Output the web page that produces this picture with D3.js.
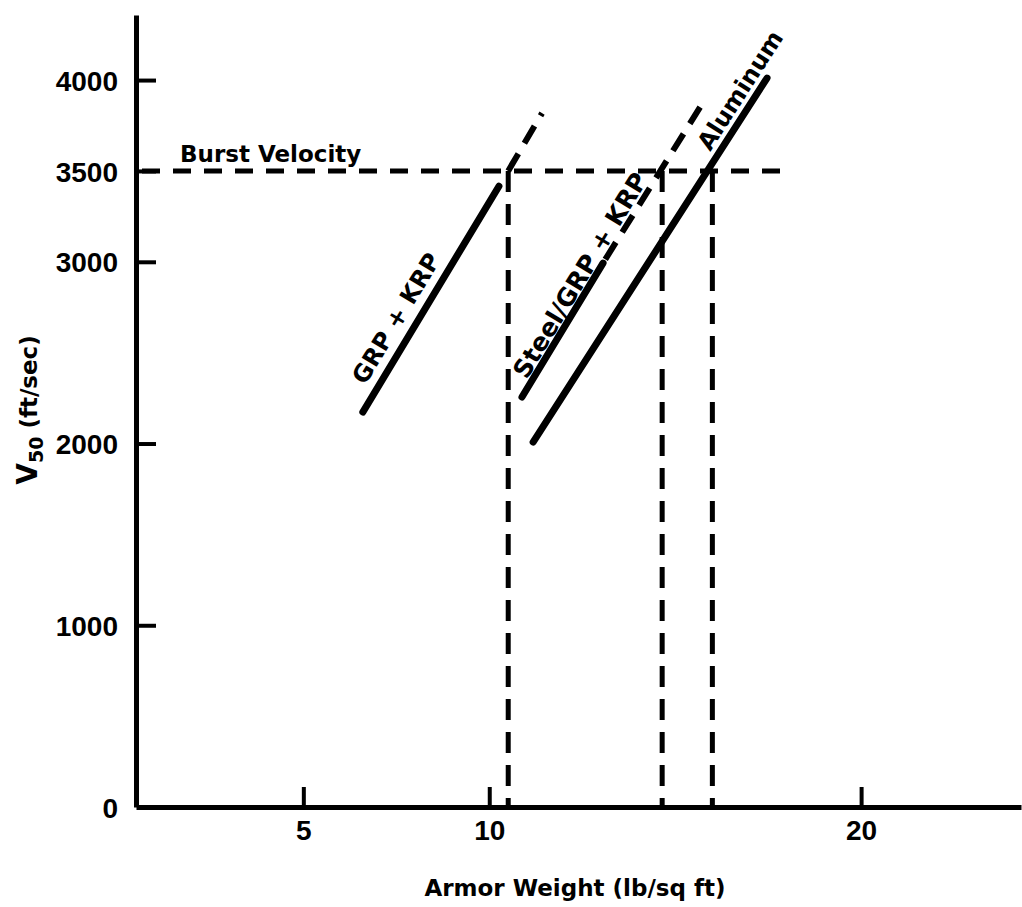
<!DOCTYPE html>
<meta charset="utf-8">
<script src="https://d3js.org/d3.v7.min.js"></script>
<style>
  body { margin: 0; background: #fff; }
  .tick text { font-family: "Liberation Sans Narrow", "Liberation Sans", sans-serif; font-stretch: condensed; font-weight: bold; font-size: 28px; }
  .lbl { font-family: "DejaVu Sans", sans-serif; font-weight: bold; fill: #000; }
</style>
<div id="chart"></div>
<script>
  var width = 1022
  var height = 907

  // axis ticks
  var xTicks = [5, 10, 20]
  var yTicks = [0, 1000, 2000, 3000, 3500, 4000]

  // armor curves (lb/sq ft, ft/sec)
  var grpKrpSolid = [[6.60, 2173], [10.26, 3416]]
  var grpKrpDash = [[10.51, 3500], [11.42, 3818]]
  var steelSolid = [[10.88, 2256], [13.06, 2993]]
  var steelDash = [[13.12, 3013], [15.67, 3851]]
  var aluminumSolid = [[11.18, 2008], [17.47, 4011]]

  // burst velocity and the weights where each curve reaches it
  var burstVelocity = 3500
  var burstExtent = [0.5, 18.15]
  var burstWeights = [10.51, 14.65, 16.0]

  // line labels: text and where they sit (centre, data units)
  var labelText = ["GRP + KRP", "Steel/GRP + KRP", "Aluminum"]
  var labelAt = [[7.49, 2690], [12.44, 2927], [16.74, 3945]]
  var labelRef = [grpKrpSolid, steelSolid, aluminumSolid]

  var svg = d3.select("#chart")
    .append("svg")
    .attr("width", width)
    .attr("height", height)

  var x = d3.scaleLinear().domain([0.5, 24.3]).range([136, 1021])
  var y = d3.scaleLinear().domain([0, 4358]).range([807, 15])

  // x axis
  var xAxis = svg.append("g")
    .attr("transform", "translate(0," + y(0) + ")")
    .call(d3.axisBottom(x).tickValues(xTicks).tickFormat(d3.format("d"))
      .tickSizeInner(-20).tickSizeOuter(0).tickPadding(33))
  xAxis.select(".domain").attr("stroke-width", 5)
  xAxis.selectAll(".tick line").attr("stroke-width", 4)
  xAxis.selectAll(".tick text").attr("dy", 0)

  // y axis
  var yAxis = svg.append("g")
    .attr("transform", "translate(" + x(0.5) + ",0)")
    .call(d3.axisLeft(y).tickValues(yTicks).tickFormat(d3.format("d"))
      .tickSizeInner(-20).tickSizeOuter(0).tickPadding(18))
  yAxis.select(".domain").attr("stroke-width", 5)
  yAxis.selectAll(".tick line").attr("stroke-width", 4)
    .attr("display", function (d) { return d == 0 ? "none" : null })
  yAxis.selectAll(".tick text").attr("dy", "0.36em")

  var line = d3.line()
    .x(function (d) { return x(d[0]) })
    .y(function (d) { return y(d[1]) })

  // burst velocity line + drops
  svg.append("path")
    .attr("d", line([[burstExtent[0], burstVelocity], [burstExtent[1], burstVelocity]]))
    .attr("stroke", "#000").attr("stroke-width", 5).attr("fill", "none")
    .attr("stroke-dasharray", "18,13").attr("stroke-dashoffset", -6)

  svg.selectAll(".drop")
    .data(burstWeights)
    .enter().append("path")
    .attr("class", "drop")
    .attr("d", function (d) { return line([[d, burstVelocity], [d, 0]]) })
    .attr("stroke", "#000").attr("stroke-width", 5).attr("fill", "none")
    .attr("stroke-dasharray", "21,12")

  // curves
  svg.selectAll(".solid")
    .data([grpKrpSolid, steelSolid, aluminumSolid])
    .enter().append("path")
    .attr("class", "solid")
    .attr("d", line)
    .attr("stroke", "#000").attr("stroke-width", 7).attr("fill", "none")
    .attr("stroke-linecap", "round")

  svg.selectAll(".ext")
    .data([grpKrpDash, steelDash])
    .enter().append("path")
    .attr("class", "ext")
    .attr("d", line)
    .attr("stroke", "#000").attr("stroke-width", 6).attr("fill", "none")
    .attr("stroke-dasharray", "20,12")

  // labels along the curves
  labelText.forEach(function (t, i) {
    var p = labelRef[i]
    var ang = Math.atan2(y(p[1][1]) - y(p[0][1]), x(p[1][0]) - x(p[0][0])) * 180 / Math.PI
    svg.append("text")
      .attr("class", "lbl")
      .attr("transform", "translate(" + x(labelAt[i][0]) + "," + y(labelAt[i][1]) + ") rotate(" + ang + ")")
      .attr("text-anchor", "middle")
      .attr("dy", "0.36em")
      .style("font-size", i == 1 ? "25px" : "24px")
      .text(t)
  })

  svg.append("text")
    .attr("class", "lbl")
    .attr("x", 180).attr("y", y(burstVelocity) - 9)
    .style("font-size", "23px")
    .text("Burst Velocity")

  // axis titles
  svg.append("text")
    .attr("class", "lbl")
    .attr("x", 575).attr("y", 896)
    .attr("text-anchor", "middle")
    .style("font-size", "23px")
    .text("Armor Weight (lb/sq ft)")

  var yt = svg.append("text")
    .attr("class", "lbl")
    .attr("transform", "translate(37,410) rotate(-90)")
    .attr("text-anchor", "middle")
    .style("font-size", "23px")
  yt.append("tspan").text("V").style("font-size", "28px")
  yt.append("tspan").text("50").attr("dy", 6).style("font-size", "19px")
  yt.append("tspan").text(" (ft/sec)").attr("dy", -6)
</script>
